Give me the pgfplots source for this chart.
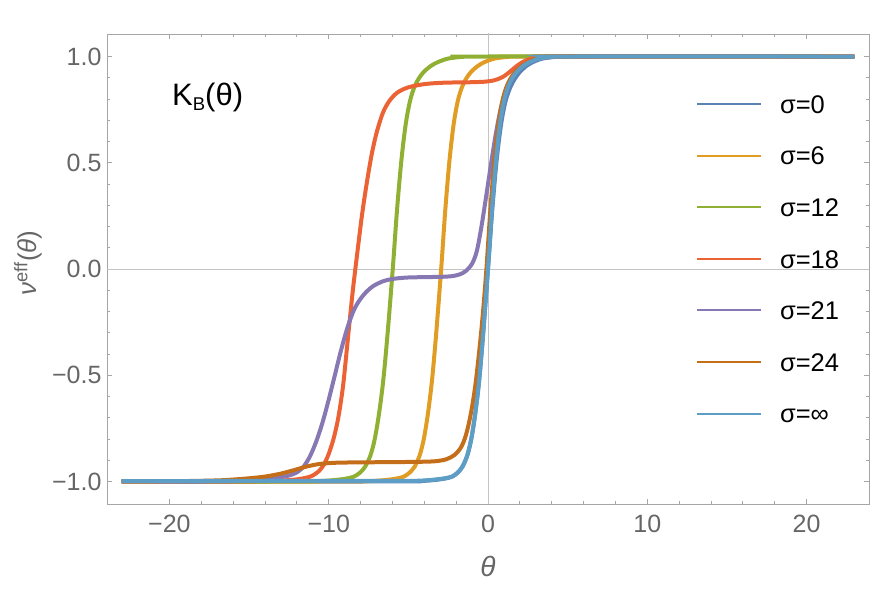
\documentclass[border=0pt]{standalone}
\usepackage{fontspec}
\setmainfont{Liberation Sans}
\usepackage{pgfplots}
\pgfplotsset{compat=1.18}
\definecolor{c1}{HTML}{5E81B5}
\definecolor{c2}{HTML}{E19C24}
\definecolor{c3}{HTML}{8FB032}
\definecolor{c4}{HTML}{EB6235}
\definecolor{c5}{HTML}{8778B3}
\definecolor{c6}{HTML}{C56E1A}
\definecolor{c7}{HTML}{5D9EC7}
\definecolor{framec}{HTML}{A6A6A6}
\definecolor{labc}{HTML}{666666}
\definecolor{axc}{HTML}{C4C4C4}
\begin{document}
\begin{tikzpicture}[x=1bp,y=1bp]
\useasboundingbox (0,0) rectangle (872,616);
\begin{axis}[
  at={(107bp,112bp)}, anchor=south west,
  scale only axis, width=762bp, height=470bp,
  xmin=-23.92, xmax=23.92, ymin=-1.106, ymax=1.106,
  xtick={-20,-10,0,10,20},
  xticklabels={−20,−10,0,10,20},
  ytick={-1,-0.5,0,0.5,1},
  yticklabels={−1.0,−0.5,0.0,0.5,1.0},
  minor x tick num=4, minor y tick num=4,
  tick align=inside,
  major tick length=5bp, minor tick length=2.8bp,
  axis line style={framec, line width=0.9bp},
  every tick/.style={framec, line width=0.8bp},
  tick label style={labc, font=\fontsize{25bp}{30bp}\selectfont},
  yticklabel style={inner sep=0pt, anchor=east, xshift=-5.3bp},
  xticklabel style={inner sep=0pt, anchor=north, yshift=-11bp},
  xlabel={\textit{θ}},
  xlabel style={at={(axis description cs:0.5,-0.134)}, anchor=center, labc, font=\fontsize{28bp}{32bp}\selectfont},
  ylabel={\textit{ν}\textsuperscript{eff}(\textit{θ})},
  ylabel style={at={(axis description cs:-0.1037,0.5128)}, anchor=center, labc, font=\fontsize{26bp}{30bp}\selectfont},
  legend cell align=left,
  legend image code/.code={\draw[#1, line width=2bp] (0bp,0bp) -- (64bp,0bp);},
  legend style={at={(0.773,0.8706)}, anchor=north west, draw=none, fill=none,
    inner sep=0pt, outer sep=0pt, row sep=33.1bp,
    nodes={inner sep=0pt, text height=18.5bp, text depth=0pt, font=\fontsize{25.5bp}{30bp}\selectfont},
    /tikz/every odd column/.append style={column sep=18bp}},
  every axis plot/.append style={line width=4bp, smooth},
]
\addplot[forget plot, axc, line width=0.8bp, sharp plot] coordinates {(0,-1.2) (0,1.2)};
\addplot[forget plot, axc, line width=0.8bp, sharp plot] coordinates {(-25,0) (25,0)};

% sigma = 0
\addplot[c1] coordinates {
(-23,-1) (-6,-1) (-4,-0.997) (-3,-0.99) (-2.5,-0.983) (-2.2,-0.975) (-1.9,-0.958)
(-1.6,-0.93) (-1.3,-0.877) (-1.05,-0.80) (-0.8,-0.68) (-0.55,-0.52) (-0.3,-0.3)
(0,0) (0.27,0.28) (0.54,0.51) (0.82,0.68) (1.1,0.79) (1.4,0.855) (1.68,0.895)
(2.0,0.927) (2.4,0.955) (2.8,0.973) (3.4,0.99) (4.2,0.998) (5.2,1) (23,1)};
\addlegendentry{σ=0}

% sigma = 6
\addplot[c2] coordinates {
(-23,-1) (-9.18,-1) (-7.1,-0.997) (-6.06,-0.99) (-5.54,-0.983) (-5.23,-0.975)
(-4.92,-0.958) (-4.6,-0.93) (-4.29,-0.877) (-4.03,-0.80) (-3.77,-0.68) (-3.51,-0.52)
(-3.25,-0.3) (-2.94,0) (-2.68,0.28) (-2.42,0.51) (-2.16,0.68) (-1.90,0.79)
(-1.64,0.855) (-1.38,0.895) (-1.07,0.927) (-0.65,0.955) (-0.24,0.973) (0.39,0.99)
(1.22,0.998) (2.26,1) (23,1)};
\addlegendentry{σ=6}

% sigma = 12
\addplot[c3] coordinates {
(-23,-1) (-12.46,-1) (-10.3,-0.997) (-9.22,-0.99) (-8.68,-0.983) (-8.36,-0.975)
(-8.03,-0.958) (-7.71,-0.93) (-7.38,-0.877) (-7.11,-0.80) (-6.84,-0.68) (-6.57,-0.52)
(-6.30,-0.3) (-5.98,0) (-5.71,0.28) (-5.44,0.51) (-5.17,0.68) (-4.9,0.79)
(-4.63,0.855) (-4.36,0.895) (-4.04,0.927) (-3.6,0.955) (-3.17,0.973) (-2.52,0.99)
(-1.66,0.998) (-0.58,1) (23,1)};
\addlegendentry{σ=12}

% sigma = 18
\addplot[c4] coordinates {
(-23,-1) (-16,-1) (-14,-0.998) (-12.8,-0.995) (-12,-0.99) (-11.4,-0.982)
(-11.0,-0.972) (-10.6,-0.95) (-10.3,-0.92) (-10.0,-0.87) (-9.7,-0.80) (-9.4,-0.70)
(-9.1,-0.55) (-8.8,-0.33) (-8.5,-0.11) (-8.2,0.08) (-7.9,0.26) (-7.6,0.41)
(-7.3,0.54) (-7.0,0.64) (-6.6,0.735) (-6.2,0.79) (-5.7,0.83) (-5.0,0.855)
(-4,0.870) (-3,0.876) (-2,0.878) (-1,0.879) (-0.3,0.881) (0.2,0.885) (0.6,0.893)
(1.0,0.907) (1.4,0.93) (1.8,0.955) (2.2,0.975) (2.7,0.99) (3.4,0.998) (4.5,1) (23,1)};
\addlegendentry{σ=18}

% sigma = 21
\addplot[c5] coordinates {
(-23,-1) (-17,-1) (-15.5,-0.997) (-14.3,-0.992) (-13.1,-0.98) (-12.6,-0.974)
(-12.1,-0.961) (-11.63,-0.935) (-11.2,-0.885) (-10.8,-0.815) (-10.4,-0.725)
(-10.0,-0.615) (-9.6,-0.495) (-9.2,-0.375) (-8.8,-0.27) (-8.4,-0.19) (-8.0,-0.14)
(-7.6,-0.105) (-7.2,-0.08) (-6.6,-0.058) (-6,-0.047) (-5,-0.04) (-3,-0.037)
(-2.3,-0.034) (-1.8,-0.026) (-1.4,-0.01) (-1.0,0.025) (-0.7,0.085) (-0.4,0.205)
(-0.1,0.35) (0.2,0.5) (0.5,0.64) (0.8,0.755) (1.1,0.835) (1.4,0.885) (1.8,0.93)
(2.2,0.958) (2.7,0.978) (3.3,0.992) (4.2,0.999) (5.5,1) (23,1)};
\addlegendentry{σ=21}

% sigma = 24
\addplot[c6] coordinates {
(-23,-1) (-19,-0.998) (-17,-0.995) (-16,-0.991) (-15,-0.985) (-14,-0.977)
(-13,-0.963) (-12.2,-0.947) (-11.4,-0.93) (-10.6,-0.918) (-9.6,-0.912) (-8,-0.91)
(-6,-0.909) (-4,-0.907) (-3.2,-0.904) (-2.6,-0.895) (-2.1,-0.875) (-1.7,-0.84)
(-1.4,-0.785) (-1.1,-0.69) (-0.8,-0.55) (-0.5,-0.35) (-0.3,-0.19) (-0.1,0)
(0.15,0.28) (0.4,0.51) (0.65,0.68) (0.9,0.79) (1.15,0.855) (1.4,0.895) (1.7,0.927)
(2.1,0.955) (2.5,0.973) (3.1,0.99) (3.9,0.998) (4.9,1) (23,1)};
\addlegendentry{σ=24}

% sigma = infinity
\addplot[c7] coordinates {
(-23,-0.998) (-6,-0.997) (-4,-0.995) (-3,-0.988) (-2.5,-0.982) (-2.2,-0.975)
(-1.9,-0.958) (-1.6,-0.93) (-1.3,-0.877) (-1.05,-0.80) (-0.8,-0.68) (-0.55,-0.52)
(-0.3,-0.3) (0,0) (0.25,0.28) (0.5,0.51) (0.75,0.68) (1.0,0.79) (1.25,0.855)
(1.5,0.895) (1.8,0.927) (2.2,0.955) (2.6,0.973) (3.2,0.99) (4,0.998) (5,1) (23,1)};
\addlegendentry{σ=∞}

\node[anchor=base west, inner sep=0pt, font=\fontsize{31bp}{36bp}\selectfont]
  at (axis description cs:0.0853,0.8468) {K\raisebox{-4.7bp}{\fontsize{18.5bp}{20bp}\selectfont B}(θ)};
\end{axis}
\end{tikzpicture}
\end{document}
